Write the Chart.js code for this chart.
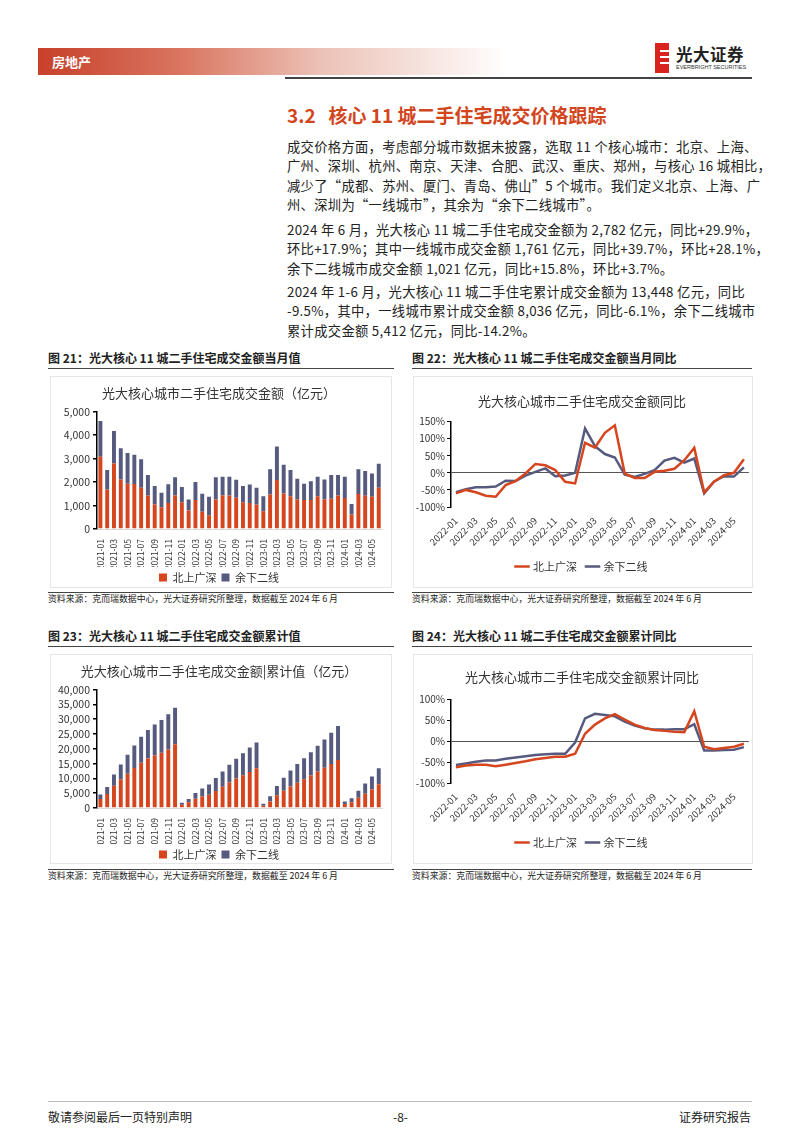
<!DOCTYPE html>
<html>
<head>
<meta charset="utf-8">
<script src="https://cdn.jsdelivr.net/npm/chart.js@4"></script>
<style>
  body { margin:0; width:802px; height:1133px; background:#fff; position:relative; font-family:"Noto Sans CJK SC", "Noto Sans", sans-serif; color:#222; overflow:hidden; }
  .abs { position:absolute; }
  .band { left:38px; top:48px; width:470px; height:27px; background:linear-gradient(to right, #c7402a 0%, #d9745f 30%, #ecc1b6 60%, #fff 100%); }
  .band span { position:absolute; left:14px; top:4px; color:#fff; font-size:13px; font-weight:bold; }
  .hline { background:#444; }
  .title { left:287px; top:101px; font-size:19px; color:#d2461e; font-weight:bold; }
  .para { left:287px; font-size:13.3px; line-height:19.4px; color:#222; white-space:nowrap; letter-spacing:0.3px; }
  .cap { font-size:12px; font-weight:bold; color:#222; }
  .src { font-size:8.9px; color:#222; }
  .box { border:1px solid #e6e6e6; background:#fff; }
  .foot { font-size:12px; color:#222; }
</style>
</head>
<body>
<div class="abs band"><span>房地产</span></div>
<div class="abs" style="left:655px;top:43px;width:14px;height:30px;background:#d8231e;"></div>
<div class="abs" style="left:660px;top:50px;width:9px;height:2px;background:#fff;"></div>
<div class="abs" style="left:660px;top:56px;width:9px;height:2px;background:#fff;"></div>
<div class="abs" style="left:660px;top:62px;width:9px;height:2px;background:#fff;"></div>
<div class="abs" style="left:676px;top:42px;font-size:16.5px;font-weight:bold;color:#222;letter-spacing:0.5px;">光大证券</div>
<div class="abs" style="left:676px;top:64px;font-size:5.5px;color:#333;font-family:'Liberation Sans';">EVERBRIGHT SECURITIES</div>
<div class="abs hline" style="left:285px;top:77px;width:467px;height:2px;"></div>

<div class="abs title">3.2&nbsp;&nbsp;&nbsp;核心 11 城二手住宅成交价格跟踪</div>
<div class="abs para" style="top:137px;">成交价格方面，考虑部分城市数据未披露，选取 11 个核心城市：北京、上海、<br>广州、深圳、杭州、南京、天津、合肥、武汉、重庆、郑州，与核心 16 城相比，<br>减少了“成都、苏州、厦门、青岛、佛山”5 个城市。我们定义北京、上海、广<br>州、深圳为“一线城市”，其余为“余下二线城市”。</div>
<div class="abs para" style="top:220px;">2024 年 6 月，光大核心 11 城二手住宅成交金额为 2,782 亿元，同比+29.9%，<br>环比+17.9%；其中一线城市成交金额 1,761 亿元，同比+39.7%，环比+28.1%，<br>余下二线城市成交金额 1,021 亿元，同比+15.8%，环比+3.7%。</div>
<div class="abs para" style="top:282px;">2024 年 1-6 月，光大核心 11 城二手住宅累计成交金额为 13,448 亿元，同比<br>-9.5%，其中，一线城市累计成交金额 8,036 亿元，同比-6.1%，余下二线城市<br>累计成交金额 5,412 亿元，同比-14.2%。</div>

<div class="abs cap" style="left:48px;top:349px;">图 21：光大核心 11 城二手住宅成交金额当月值</div>
<div class="abs cap" style="left:412px;top:349px;">图 22：光大核心 11 城二手住宅成交金额当月同比</div>
<div class="abs hline" style="left:48px;top:368px;width:346px;height:1px;"></div>
<div class="abs hline" style="left:412px;top:368px;width:340px;height:1px;"></div>
<div class="abs box" style="left:50px;top:376px;width:340px;height:210px;"></div>
<div class="abs box" style="left:413px;top:376px;width:338px;height:210px;"></div>
<div class="abs hline" style="left:48px;top:592px;width:346px;height:1px;"></div>
<div class="abs hline" style="left:412px;top:592px;width:340px;height:1px;"></div>
<div class="abs src" style="left:48px;top:592px;">资料来源：克而瑞数据中心，光大证券研究所整理，数据截至 2024 年 6 月</div>
<div class="abs src" style="left:412px;top:592px;">资料来源：克而瑞数据中心，光大证券研究所整理，数据截至 2024 年 6 月</div>

<div class="abs cap" style="left:48px;top:627px;">图 23：光大核心 11 城二手住宅成交金额累计值</div>
<div class="abs cap" style="left:412px;top:627px;">图 24：光大核心 11 城二手住宅成交金额累计同比</div>
<div class="abs hline" style="left:48px;top:646px;width:346px;height:1px;"></div>
<div class="abs hline" style="left:412px;top:646px;width:340px;height:1px;"></div>
<div class="abs box" style="left:50px;top:654px;width:340px;height:208px;"></div>
<div class="abs box" style="left:413px;top:654px;width:338px;height:208px;"></div>
<div class="abs hline" style="left:48px;top:869px;width:346px;height:1px;"></div>
<div class="abs hline" style="left:412px;top:869px;width:340px;height:1px;"></div>
<div class="abs src" style="left:48px;top:869px;">资料来源：克而瑞数据中心，光大证券研究所整理，数据截至 2024 年 6 月</div>
<div class="abs src" style="left:412px;top:869px;">资料来源：克而瑞数据中心，光大证券研究所整理，数据截至 2024 年 6 月</div>

<div class="abs" style="left:51px;top:377px;width:340px;height:216px;"><canvas id="c1"></canvas></div>
<div class="abs" style="left:414px;top:377px;width:338px;height:210px;"><canvas id="c2"></canvas></div>
<div class="abs" style="left:51px;top:655px;width:340px;height:215px;"><canvas id="c3"></canvas></div>
<div class="abs" style="left:414px;top:655px;width:338px;height:208px;"><canvas id="c4"></canvas></div>

<div class="abs" style="left:48px;top:1101px;width:704px;height:1px;background:#bbb;"></div>
<div class="abs foot" style="left:48px;top:1108px;">敬请参阅最后一页特别声明</div>
<div class="abs foot" style="left:393px;top:1108px;">-8-</div>
<div class="abs foot" style="left:679px;top:1108px;">证券研究报告</div>

<script>
var RED = '#d5461f'
var BLUE = '#565a7e'
var FONT = '"Noto Sans CJK SC", "Noto Sans", sans-serif'

// 2021-01 ~ 2024-06
var months = ['2021-01','2021-02','2021-03','2021-04','2021-05','2021-06','2021-07','2021-08','2021-09','2021-10','2021-11','2021-12',
  '2022-01','2022-02','2022-03','2022-04','2022-05','2022-06','2022-07','2022-08','2022-09','2022-10','2022-11','2022-12',
  '2023-01','2023-02','2023-03','2023-04','2023-05','2023-06','2023-07','2023-08','2023-09','2023-10','2023-11','2023-12',
  '2024-01','2024-02','2024-03','2024-04','2024-05','2024-06']
// 2022-01 ~ 2024-06
var monthsYoy = months.slice(12)

// 当月值（亿元）
var tier1Monthly = [3080,1680,2790,2110,1930,1920,1760,1430,1040,930,1110,1430,
  1140,790,1230,730,590,1260,1430,1430,1330,1140,1110,1040,
  760,1470,2090,1510,1400,1260,1230,1230,1400,1260,1290,1430,
  1320,620,1490,1420,1375,1761]
var tier2Monthly = [1520,830,1380,1330,1310,1240,1210,870,790,610,800,770,
  650,470,770,770,780,940,800,800,770,690,780,720,
  640,1070,1420,1230,1110,880,700,800,830,850,1010,870,
  910,440,1050,1050,985,1021]

// 累计值（亿元）
var tier1Cum = [3080,4760,7550,9660,11590,13510,15270,16700,17740,18670,19780,21500,
  1140,1930,3160,3890,4480,5740,7170,8600,9930,11070,12180,13400,
  760,2230,4320,5830,7230,8490,9720,10950,12350,13610,14900,16200,
  1320,1940,3430,4850,6275,8036]
var tier2Cum = [1520,2350,3730,5060,6370,7610,8820,9690,10480,11090,11890,12370,
  650,1120,1890,2660,3440,4380,5180,5980,6750,7440,8220,8760,
  640,1710,3130,4360,5470,6350,7050,7850,8680,9530,10540,11540,
  910,1350,2400,3450,4385,5412]

// 当月同比（%）
var tier1Yoy = [-60,-50,-57,-67,-70,-36,-24,-2,26,22,8,-26,
  -31,88,74,117,139,-2,-15,-15,3,6,12,37,
  73,-57,-26,-7,0,40]
var tier2Yoy = [-57,-48,-42,-42,-40,-23,-24,-8,3,13,-10,-8,
  0,130,78,55,45,-5,-12,-3,8,36,44,30,
  42,-60,-25,-10,-11,16]

// 累计同比（%）
var tier1CumYoy = [-62,-58,-56,-56,-60,-56,-52,-48,-43,-40,-37,-37,
  -30,18,40,55,65,52,40,32,27,25,23,22,
  72,-13,-19,-16,-13,-6]
var tier2CumYoy = [-57,-53,-49,-46,-46,-42,-39,-36,-33,-31,-30,-30,
  -3,55,66,63,60,47,38,31,28,28,29,29,
  41,-22,-22,-21,-20,-14]

Chart.defaults.font.family = FONT
Chart.defaults.color = '#333'
Chart.defaults.animation = false

function everyOther(v, i) { return i % 2 === 0 ? this.getLabelForValue(v) : '' }

function barChart(id, title, red, blue, max, step, yW, xH) {
  new Chart(document.getElementById(id), {
    type: 'bar',
    data: {
      labels: months,
      datasets: [
        { label: '北上广深', data: red, backgroundColor: RED, barPercentage: 0.58, categoryPercentage: 1 },
        { label: '余下二线', data: blue, backgroundColor: BLUE, barPercentage: 0.58, categoryPercentage: 1 }
      ]
    },
    options: {
      responsive: true,
      maintainAspectRatio: false,
      layout: { padding: { left: 0, right: 4, bottom: 0 } },
      plugins: {
        title: { display: true, text: title, font: { size: 13, weight: 'normal' }, color: '#333', padding: { top: 8, bottom: 11 } },
        legend: { position: 'bottom', labels: { boxWidth: 8, boxHeight: 8, padding: 5, font: { size: 11 }, color: '#333' } },
        tooltip: { enabled: false }
      },
      scales: {
        x: {
          stacked: true,
          grid: { display: false },
          border: { color: '#d9d9d9' },
          afterFit: function (s) { s.height = xH },
          ticks: { autoSkip: false, minRotation: 90, maxRotation: 90, padding: 2, font: { size: 8.5 }, color: '#333', callback: everyOther }
        },
        y: {
          stacked: true,
          min: 0, max: max,
          afterFit: function (s) { s.width = yW },
          border: { color: '#000', width: 1.5 },
          grid: { drawOnChartArea: false, tickLength: 4, color: '#000', lineWidth: 1.5 },
          ticks: { stepSize: step, autoSkip: false, font: { size: 10.5 }, color: '#333', padding: 3,
            callback: function (v) { return v.toLocaleString('en-US') } }
        }
      }
    }
  })
}

function lineChart(id, title, red, blue, min, max, yW, xH, padTop, padBottom) {
  new Chart(document.getElementById(id), {
    type: 'line',
    data: {
      labels: monthsYoy,
      datasets: [
        { label: '北上广深', data: red, borderColor: RED, backgroundColor: RED, borderWidth: 2.5, pointRadius: 0, tension: 0 },
        { label: '余下二线', data: blue, borderColor: BLUE, backgroundColor: BLUE, borderWidth: 2.5, pointRadius: 0, tension: 0 }
      ]
    },
    options: {
      responsive: true,
      maintainAspectRatio: false,
      layout: { padding: { left: 0, right: 2, bottom: 5 } },
      plugins: {
        title: { display: true, text: title, font: { size: 13, weight: 'normal' }, color: '#333', padding: { top: padTop, bottom: padBottom } },
        legend: { position: 'bottom', labels: { usePointStyle: true, pointStyle: 'line', boxWidth: 30, padding: 10, font: { size: 11 }, color: '#333' } },
        tooltip: { enabled: false }
      },
      scales: {
        x: {
          offset: true,
          grid: { display: false },
          border: { display: false },
          afterFit: function (s) { s.height = xH },
          ticks: { autoSkip: false, minRotation: 45, maxRotation: 45, padding: 0, font: { size: 9.5 }, color: '#333', callback: everyOther }
        },
        y: {
          min: min, max: max,
          afterFit: function (s) { s.width = yW },
          border: { color: '#000', width: 1.5 },
          grid: {
            tickLength: 4, tickColor: '#000', lineWidth: 1,
            color: function (c) { return c.tick && c.tick.value === 0 ? '#555' : 'rgba(0,0,0,0)' }
          },
          ticks: { stepSize: 50, font: { size: 10 }, color: '#333', padding: 2,
            callback: function (v) { return v + '%' } }
        }
      }
    }
  })
}

barChart('c1', '光大核心城市二手住宅成交金额（亿元）', tier1Monthly, tier2Monthly, 5000, 1000, 46, 38)
lineChart('c2', '光大核心城市二手住宅成交金额同比', tier1Yoy, tier2Yoy, -100, 150, 37, 44, 16, 13)
barChart('c3', '光大核心城市二手住宅成交金额|累计值（亿元）', tier1Cum, tier2Cum, 40000, 5000, 46, 36)
lineChart('c4', '光大核心城市二手住宅成交金额累计同比', tier1CumYoy, tier2CumYoy, -100, 100, 37, 44, 14, 15)
</script>
</body>
</html>
